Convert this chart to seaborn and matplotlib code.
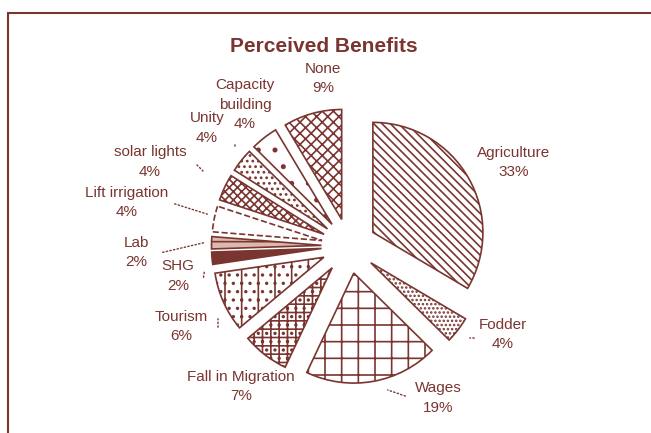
import matplotlib
matplotlib.use("Agg")
import matplotlib.pyplot as plt
import seaborn as sns
from matplotlib.patches import Rectangle

# ---- data ----
categories = ["Agriculture", "Fodder", "Wages", "Fall in Migration", "Tourism", "SHG",
              "Lab", "Lift irrigation", "solar lights", "Unity", "Capacity\nbuilding", "None"]
shares = [33.6, 3.9, 19.7, 6.9, 8.8, 1.8, 1.8, 3.8, 3.9, 3.5, 4.0, 8.6]
pct_labels = ["33%", "4%", "19%", "7%", "6%", "2%", "2%", "4%", "4%", "4%", "4%", "9%"]
title = "Perceived Benefits"

# ---- style ----
sns.set_theme(style="white")
plt.rcParams["font.family"] = ["Liberation Sans", "DejaVu Sans"]
DARK = "#7a3530"
LIGHT = "#dcb8ae"
plt.rcParams["hatch.color"] = DARK
plt.rcParams["hatch.linewidth"] = 1.2

W, H = 651, 433
fig = plt.figure(figsize=(W / 100, H / 100), dpi=100)
fig.patch.set_facecolor("white")
ax = fig.add_axes([0, 0, 1, 1])

cx, cy, R = 349, H - 246, 110
wedges, _ = ax.pie(shares, startangle=90, counterclock=False,
                   explode=[0.25 * R] * len(shares), center=(cx, cy), radius=R,
                   frame=True)
ax.set_xlim(0, W)
ax.set_ylim(0, H)
ax.set_aspect("equal")
ax.axis("off")

styles = [
    dict(fc="white", hatch="\\\\\\\\"),     # Agriculture
    dict(fc="white", hatch="...."),         # Fodder
    dict(fc="white", hatch="+"),            # Wages
    dict(fc="white", hatch="++.."),         # Fall in Migration
    dict(fc="white", hatch="|.."),          # Tourism
    dict(fc=DARK, hatch=None),              # SHG
    dict(fc=LIGHT, hatch="-"),              # Lab
    dict(fc="white", hatch=None, ls="--"),  # Lift irrigation
    dict(fc="white", hatch="xxxx"),         # solar lights
    dict(fc="white", hatch="..."),          # Unity
    dict(fc="white", hatch="."),            # Capacity building
    dict(fc="white", hatch="xxx"),          # None
]
for w, st in zip(wedges, styles):
    w.set_facecolor(st["fc"])
    w.set_edgecolor(DARK)
    w.set_linewidth(1.2)
    if st.get("hatch"):
        w.set_hatch(st["hatch"])
    if st.get("ls"):
        w.set_linestyle(st["ls"])

# ---- labels (layout: centre x and first-line y, px from top) ----
label_pos = [(514, 153), (503, 325), (438, 388), (241, 377), (181, 317), (178, 266),
             (136, 243), (127, 193), (150, 152), (207, 118), (245, 85), (323, 69)]
STEP = 19.5
for name, pct, (x, y) in zip(categories, pct_labels, label_pos):
    lines = name.split("\n") + [pct]
    for i, line in enumerate(lines):
        ax.text(x, H - (y + i * STEP), line, ha="center", va="center",
                fontsize=11, color=DARK)

# leader lines
leaders = [((467, 338), (477, 338)), ((385, 389), (408, 397)), ((218, 316), (218, 330)),
           ((205, 268), (203, 280)), ((207, 242), (160, 253)), ((210, 215), (172, 203)),
           ((205, 173), (195, 163)), ((235, 142), (235, 149))]
for (x1, y1), (x2, y2) in leaders:
    ax.annotate("", xy=(x1, H - y1), xytext=(x2, H - y2),
                arrowprops=dict(arrowstyle="-", linestyle=":", color=DARK, lw=1))

ax.text(324, H - 47, title, ha="center", va="center", fontsize=15,
        fontweight="bold", color=DARK)

# chart frame (extends past right and bottom edges)
fig.add_artist(Rectangle((8 / W, -0.1), 1.2, (H - 13) / H + 0.1,
                         transform=fig.transFigure, fill=False,
                         edgecolor=DARK, linewidth=1.5))

fig.savefig("out.png", dpi=100)
